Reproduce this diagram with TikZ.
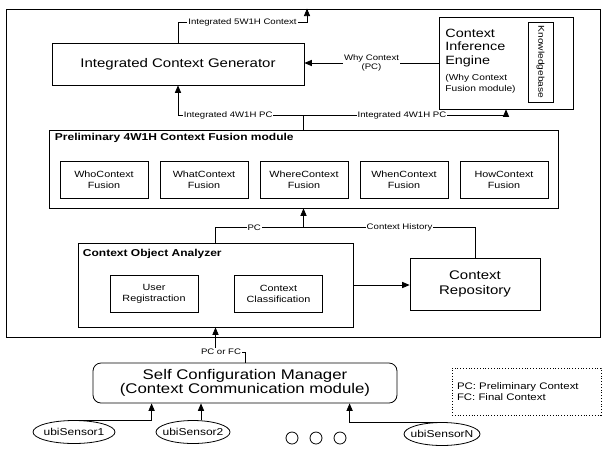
\documentclass[tikz,border=0pt]{standalone}
\usepackage{fontspec}
\setmainfont[FakeStretch=1.2]{Liberation Sans}
\usetikzlibrary{calc}
\usetikzlibrary{shapes}
\usetikzlibrary{arrows}
\usetikzlibrary{positioning}
\tikzset{module/.style={rectangle,draw=black,thick,inner sep=0pt},
unit/.style={module,minimum width=88pt,minimum height=37pt,align=center,
font=\fontsize{9}{11}\selectfont},
heading/.style={anchor=north west,inner sep=0pt,font=\bfseries\fontsize{10}{12}\selectfont},
lbl/.style={fill=white,inner sep=1pt,font=\fontsize{8}{9}\selectfont},
sensor/.style={ellipse,draw=black,thick,minimum height=23pt,inner sep=0pt,
font=\fontsize{10}{12}\selectfont},
dots/.style={circle,draw=black,thick,minimum size=12pt,inner sep=0pt},
note/.style={draw=black,dotted,thick,align=left,inner xsep=5pt,
font=\fontsize{9.5}{11}\selectfont},
>={triangle 45}}

\begin{document}
\begin{tikzpicture}[x=1pt,y=-1pt,line width=0.7pt]
  \useasboundingbox (0,0) rectangle (602,459);
  % whole system
  \node (sys) [module, minimum width=594pt, minimum height=328pt] at (303,173) {};
  \node (icg) [module, minimum width=252pt, minimum height=42pt,
    font=\fontsize{12.5}{15}\selectfont] at (178,64) {Integrated Context Generator};
  % inference engine
  \node (cie) [module, minimum width=134pt, minimum height=92pt] at (506,63) {};
  \node (kb) [module, minimum width=25pt, minimum height=80pt] at (540.5,62) {};
  \node (kbtext) [rotate=-90, font=\fontsize{8.5}{10}\selectfont] at (kb.center) {Knowledgebase};
  \node (ciename) [anchor=north west, align=left, inner sep=0pt,
    font=\fontsize{12}{13.5}\selectfont] at (445,28.5) {Context\\Inference\\Engine};
  \node (cienote) [anchor=north west, align=left, inner sep=0pt,
    font=\fontsize{8.5}{10.5}\selectfont] at (445,74) {(Why Context\\Fusion module)};
  % preliminary fusion
  \node (pre) [module, minimum width=509pt, minimum height=78pt] at (303.5,169) {};
  \node (pretitle) [heading] at ($(pre.north west)+(6,3)$) {Preliminary 4W1H Context Fusion module};
  \foreach \nm/\txt [count=\i from 0] in {who/Who,what/What,where/Where,when/When,how/How}
    \node (\nm) [unit] at ({104+100*\i},179.5) {\txt Context\\Fusion};
  % object analyzer
  \node (coa) [module, minimum width=275pt, minimum height=84pt] at (215.5,285) {};
  \node (coatitle) [heading] at ($(coa.north west)+(5,6)$) {Context Object Analyzer};
  \node (ureg) [unit] at (154,293.5) {User\\Registraction};
  \node (ccls) [unit] at (278.5,293.5) {Context\\Classification};
  \node (repo) [module, minimum width=130pt, minimum height=52pt, align=center,
    font=\fontsize{12.5}{15}\selectfont] at (475,284) {Context\\Repository};
  % communication
  \node (scm) [module, rounded corners=8pt, minimum width=304pt, minimum height=40pt,
    align=center, font=\fontsize{14}{13.5}\selectfont] at (245,383)
    {Self Configuration Manager\\(Context Communication module)};
  \node (pcfc) [lbl] at (221,352) {PC or FC};
  \node (s1) [sensor, minimum width=82pt] at (74,432) {\makebox[40pt]{ubiSensor1}};
  \node (s2) [sensor, minimum width=74pt] at (193,432) {\makebox[40pt]{ubiSensor2}};
  \foreach \i/\x in {1/292,2/316,3/340}
    \node (d\i) [dots] at (\x,438) {};
  \node (sn) [sensor, minimum width=76pt] at (442,434) {\makebox[40pt]{ubiSensorN}};
  \node (legend) [note, minimum width=149pt, minimum height=47pt, text width=139pt]
    at (526.5,391.5) {PC: Preliminary Context\\FC: Final Context};
  % connectors
  \coordinate (out5) at (307,22);
  \draw [->] (icg.north) |- node[lbl, pos=.75] {Integrated 5W1H Context} (out5) -- (out5 |- sys.north);
  \draw [->] (cie.west) -- (cie.west -| icg.east)
    node[lbl, midway, align=center, font=\fontsize{8}{8.5}\selectfont] {Why Context\\(PC)};
  \coordinate (ij) at ($(pre.north)+(0,-14)$);
  \draw (pre.north) -- (ij);
  \draw [->] (ij) -| node[lbl, pos=.3] {Integrated 4W1H PC} (icg.south);
  \draw [->] (ij) -| node[lbl, pos=.243] {Integrated 4W1H PC} (cie.south);
  \coordinate (pj) at ($(pre.south)+(0,19)$);
  \draw (coa.north) |- node[lbl, pos=.72] {PC} (pj);
  \draw (repo.north) |- node[lbl, pos=.72] {Context History} (pj);
  \draw [->] (pj) -- (pre.south);
  \draw [->] (coa.east) -- (coa.east -| repo.west);
  \draw (scm.north) |- (pcfc.east);
  \draw [->] (pcfc.north -| coa.south) -- (coa.south);
  \coordinate (s2top) at ($(s2.north)+(8,0)$);
  \draw [->] (s1.north) -| ($(scm.south west)+(59,0)$);
  \draw [->] (s2top) -- (s2top |- scm.south);
  \draw [->] (sn.north) -| ($(scm.south west)+(257,0)$);
\end{tikzpicture}
\end{document}
